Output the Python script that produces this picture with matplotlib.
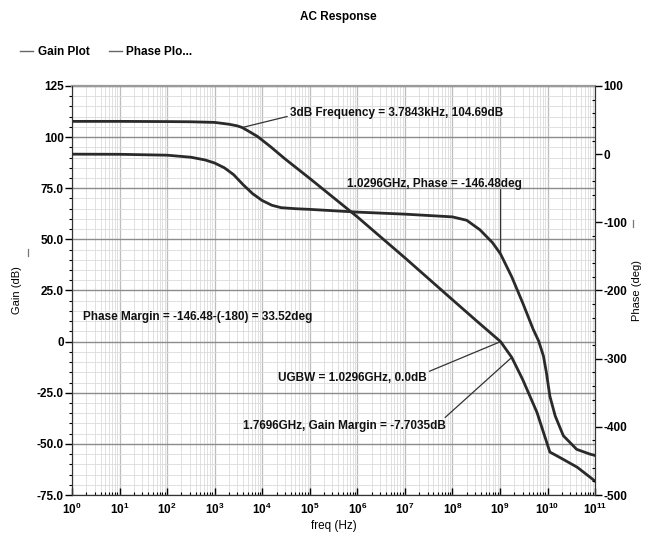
import matplotlib
matplotlib.use("Agg")
import matplotlib.pyplot as plt
from matplotlib.ticker import FixedLocator, LogLocator, MultipleLocator, NullFormatter
from matplotlib.lines import Line2D

plt.rcParams["font.family"] = ["Liberation Sans", "DejaVu Sans"]
plt.rcParams["font.weight"] = "bold"
plt.rcParams["mathtext.default"] = "regular"

# --- AC analysis results -------------------------------------------------
gain_freq = [1, 10, 100, 316, 1e3, 2e3, 3e3, 3.7843e3, 5e3, 8e3, 1.5e4,
             3e4, 1e5, 1e6, 1e7, 1e8, 3.16e8, 1.0296e9, 1.7696e9, 3e9, 6e9,
             1.12e10, 1.8e10, 4.2e10, 1e11]
gain_db = [107.7, 107.7, 107.6, 107.5, 107.2, 106.3, 105.5, 104.69, 103.1,
           100.3, 95.3, 89.4, 79.8, 61.0, 41.0, 20.5, 10.3, 0.0, -7.7035,
           -18.5, -34.6, -54.0, -56.6, -61.4, -68.2]

phase_freq = [1, 10, 100, 316, 631, 1e3, 1.6e3, 2.5e3, 4e3, 6.3e3, 1e4,
              1.6e4, 2.5e4, 5e4, 1e5, 1e6, 1e7, 1e8, 2e8, 3.8e8, 7e8,
              1.0296e9, 1.7696e9, 3e9, 5e9, 6.5e9, 8.2e9, 9.5e9, 1.12e10,
              1.45e10, 2.15e10, 4.1e10, 7.8e10, 1e11]
phase_deg = [0, -0.2, -1.5, -4.5, -8.5, -13, -20, -30, -45, -58, -68, -75,
             -78.5, -80, -81, -85, -88, -92, -97, -111, -130, -146.48, -180,
             -218, -257, -274, -296, -321, -355, -384, -413, -433, -440, -442]

# measured points
f3db, g3db = 3.7843e3, 104.69
f_ugbw, g_ugbw, ph_ugbw = 1.0296e9, 0.0, -146.48
f_gm, g_gm = 1.7696e9, -7.7035

gain_ticks = [125, 100, 75, 50, 25, 0, -25, -50, -75]
gain_tick_labels = ["125", "100", "75.0", "50.0", "25.0", "0", "-25.0",
                    "-50.0", "-75.0"]
phase_ticks = [100, 0, -100, -200, -300, -400, -500]
phase_tick_labels = ["100", "0", "-100", "-200", "-300", "-400", "-500"]

# --- figure ---------------------------------------------------------------
fig = plt.figure(figsize=(6.45, 5.46), dpi=100)
ax = fig.add_axes([0.1116, 0.0934, 0.811, 0.7491])
axp = ax.twinx()

curve_color = "#2a2a2a"
ax.plot(gain_freq, gain_db, color=curve_color, lw=2.0, zorder=5)
axp.plot(phase_freq, phase_deg, color=curve_color, lw=2.0, zorder=5)

ax.set_xscale("log")
ax.set_xlim(1, 1e11)
ax.set_ylim(-75, 125)
axp.set_ylim(-500, 100)

# grid
ax.xaxis.set_major_locator(LogLocator(base=10, numticks=20))
ax.xaxis.set_minor_locator(LogLocator(base=10, subs=range(2, 10), numticks=200))
ax.xaxis.set_minor_formatter(NullFormatter())
ax.yaxis.set_major_locator(FixedLocator(gain_ticks))
ax.set_yticklabels(gain_tick_labels)
ax.yaxis.set_minor_locator(MultipleLocator(5))
ax.grid(which="major", axis="y", color="#8c8c8c", lw=1.0)
ax.grid(which="minor", axis="y", color="#dadada", lw=0.6)
ax.grid(which="major", axis="x", color="#bdbdbd", lw=0.9)
ax.grid(which="minor", axis="x", color="#dcdcdc", lw=0.6)
ax.set_axisbelow(True)

axp.yaxis.set_major_locator(FixedLocator(phase_ticks))
axp.set_yticklabels(phase_tick_labels)
axp.yaxis.set_minor_locator(MultipleLocator(20))

tick_font = dict(labelsize=8.5)
ax.tick_params(axis="y", which="major", direction="out", length=5, width=1,
               pad=1, **tick_font)
ax.tick_params(axis="y", which="minor", direction="out", length=2.5, width=0.8)
ax.tick_params(axis="x", which="major", direction="in", length=5, width=1,
               pad=5, **tick_font)
ax.tick_params(axis="x", which="minor", direction="in", length=2.5, width=0.8)
axp.tick_params(axis="y", which="major", direction="out", length=5, width=1,
                pad=1, **tick_font)
axp.tick_params(axis="y", which="minor", direction="in", length=2.5, width=0.8)

for sp in ("left", "right", "bottom"):
    ax.spines[sp].set_color("#333333")
    axp.spines[sp].set_color("#333333")
ax.spines["top"].set_color("#9a9a9a")
ax.spines["top"].set_linewidth(1.6)
axp.spines["top"].set_visible(False)

ax.set_xlabel("freq (Hz)", fontsize=8.5, labelpad=2)
ax.set_ylabel("Gain (dB)", fontsize=8)
ax.yaxis.set_label_coords(-0.096, 0.5)
axp.set_ylabel("Phase (deg)", fontsize=8, rotation=90)
axp.yaxis.set_label_coords(1.071, 0.5)

# short markers beside the axis titles
fig.add_artist(Line2D([28 / 645, 28 / 645], [1 - 249 / 546, 1 - 256 / 546],
                      color="#777777", lw=0.9))
fig.add_artist(Line2D([633 / 645, 633 / 645], [1 - 220 / 546, 1 - 227 / 546],
                      color="#777777", lw=0.9))

fig.text(0.524, 0.968, "AC Response", ha="center", va="center", fontsize=8.5)

handles = [Line2D([], [], color="#666666", lw=1.0),
           Line2D([], [], color="#666666", lw=1.0)]
fig.legend(handles, ["Gain Plot", "Phase Plo..."], loc="center left",
           bbox_to_anchor=(0.015, 0.905), ncol=2, frameon=False,
           handlelength=1.1, handletextpad=0.4, columnspacing=1.6,
           prop=dict(size=8.5, weight="bold"))

# annotations
ann_kw = dict(fontsize=8.5, color="#111111")
line_kw = dict(arrowstyle="-", color="#333333", lw=0.9, shrinkA=0, shrinkB=0)

ax.annotate("3dB Frequency = 3.7843kHz, 104.69dB", xy=(f3db, g3db),
            xytext=(10 ** 4.585, 111.6), ha="left", va="center",
            arrowprops=dict(relpos=(0, 0.3), **line_kw), **ann_kw)

axp.text(10 ** 5.78, -43.5, "1.0296GHz, Phase = -146.48deg", ha="left",
         va="center", **ann_kw)
axp.annotate("", xy=(f_ugbw, ph_ugbw), xytext=(f_ugbw, -52),
             arrowprops=line_kw)

ax.text(10 ** 0.23, 12.2, "Phase Margin = -146.48-(-180) = 33.52deg",
        ha="left", va="center", **ann_kw)

ax.annotate("UGBW = 1.0296GHz, 0.0dB", xy=(f_ugbw, g_ugbw),
            xytext=(10 ** 4.33, -18.0), ha="left", va="center",
            arrowprops=dict(relpos=(1, 1), **line_kw), **ann_kw)

ax.annotate("1.7696GHz, Gain Margin = -7.7035dB", xy=(f_gm, g_gm),
            xytext=(10 ** 3.6, -41.4), ha="left", va="center",
            arrowprops=dict(relpos=(0.98, 1), **line_kw), **ann_kw)

fig.savefig("out.png", dpi=100)
